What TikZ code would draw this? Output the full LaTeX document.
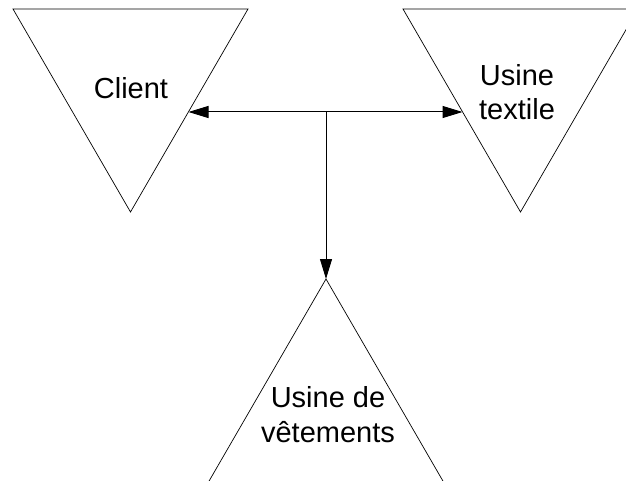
\documentclass[tikz,border=0pt]{standalone}
\usepackage{fontspec}
\setmainfont{Liberation Sans}
\usetikzlibrary{arrows.meta}
\begin{document}
\begin{tikzpicture}[x=1pt,y=-1pt,
  tri/.style={draw=black,line width=0.7pt,line join=miter},
  lbl/.style={font=\fontsize{29}{34.5}\selectfont,align=center,inner sep=0pt,anchor=base},
  link/.style={draw=black,line width=1pt,-{Triangle[length=20pt,width=12pt]}}]
  \useasboundingbox (0,0) rectangle (626,481);
  % inverted triangle: Client
  \draw[tri] (13,9) -- (248,9) -- (130.5,212) -- cycle;
  \node[lbl] (client) at (131,99) {Client};
  % inverted triangle: textile mill (base line of the last row)
  \draw[tri] (403,9) -- (638,9) -- (520.5,212) -- cycle;
  \node[lbl] (textile) at (517,120) {Usine\\textile};
  % upright triangle: clothing factory
  \draw[tri] (326,279) -- (443.5,482) -- (208.5,482) -- cycle;
  \node[lbl] (vetements) at (328,442) {Usine de\\vêtements};
  % connector end points on the triangle edges
  \coordinate (cl) at (188.5,112);
  \coordinate (tx) at (462.5,112);
  \coordinate (hub) at (326,112);
  \coordinate (vt) at (326,279);
  \draw[link] (hub) -- (cl);
  \draw[link] (hub) -- (tx);
  \draw[link] (hub) -- (vt);
\end{tikzpicture}
\end{document}
